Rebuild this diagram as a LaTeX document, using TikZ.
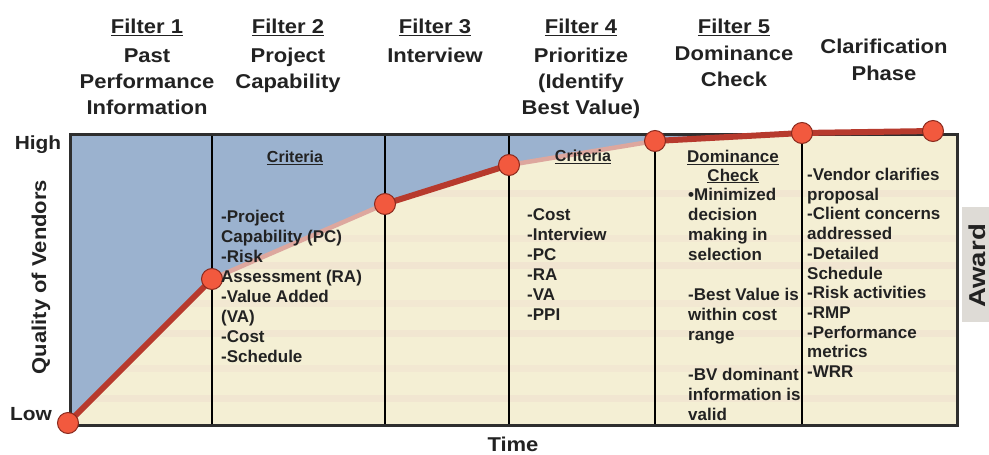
\documentclass[tikz,border=0pt]{standalone}
\usepackage{fontspec}
\setmainfont{Liberation Sans}
\newfontfamily\hdr{Liberation Sans}[FakeStretch=1.1]
\newfontfamily\awd{Liberation Sans}[FakeStretch=1.2]
\definecolor{ink}{HTML}{222222}
\definecolor{skyfill}{HTML}{9BB2CF}
\definecolor{creamfill}{HTML}{F4EFD4}
\definecolor{streak}{HTML}{EBCFCB}
\definecolor{curvecol}{HTML}{B73A2D}
\definecolor{fadecol}{HTML}{DDA79E}
\definecolor{dotfill}{HTML}{F2593E}
\definecolor{dotline}{HTML}{8A2A1E}
\definecolor{awardfill}{HTML}{DEDBD6}
\definecolor{framecol}{HTML}{2E2E2E}
\tikzset{
  hdrtext/.style={font=\hdr\bfseries\fontsize{20}{26}\selectfont, align=center, anchor=north, inner sep=0pt, text=ink},
  axistext/.style={font=\hdr\bfseries\fontsize{19}{22}\selectfont, anchor=base, inner sep=0pt, text=ink},
  bodytext/.style={font=\bfseries\fontsize{17}{20}\selectfont, align=left, anchor=north west, inner sep=0pt, text=ink},
  crittext/.style={font=\bfseries\fontsize{16}{18.5}\selectfont, align=center, anchor=north, inner sep=0pt, text=ink},
  dotnode/.style={circle, fill=dotfill, draw=dotline, line width=1pt, minimum size=21pt, inner sep=0pt},
  curveline/.style={line width=6pt, draw=curvecol},
  fadeline/.style={line width=4.5pt, draw=fadecol},
  divider/.style={line width=1.5pt, draw=black},
}
\begin{document}
\begin{tikzpicture}[x=1pt,y=-1pt]
\useasboundingbox (0,0) rectangle (989,455);
% curve points
\coordinate (p0) at (68,423);
\coordinate (p1) at (212,279);
\coordinate (p2) at (385,204);
\coordinate (p3) at (509,165);
\coordinate (p4) at (655,141);
\coordinate (p5) at (802,133);
\coordinate (p6) at (933,131);
% chart background
\fill[creamfill] (70,134) rectangle (957,425);
\begin{scope}
  \clip (70,134) rectangle (957,425);
  \foreach \yy/\op in {190/0.25,235/0.2,262/0.3,300/0.2,330/0.25,365/0.2,395/0.25}{
    \fill[streak, opacity=\op] (70,\yy) rectangle (957,\yy+7);
  }
  \fill[skyfill] (60,125) -- (60,430) -- (p0) -- (p1) -- (p2) -- (p3) -- (p4) -- (p5) -- (p6) -- (965,131) -- (965,125) -- cycle;
\end{scope}
% award tab
\fill[awardfill] (962,207) rectangle (989,322);
% dividers
\foreach \xx in {212,385,509,655,802}{
  \draw[divider] (\xx,134) -- (\xx,425);
}
% frame
\draw[line width=3pt, draw=framecol] (70,134) rectangle (957,425);
% curve
\draw[curveline] (p0) -- (p1);
\draw[fadeline] (p1) -- (p2);
\draw[curveline] (p2) -- (p3);
\draw[fadeline] (p3) -- (p4);
\draw[curveline] (p4) -- (p5);
\draw[curveline] (p5) -- (p6);
\node[dotnode] (d0) at (p0) {};
\node[dotnode] (d1) at (p1) {};
\node[dotnode] (d2) at (p2) {};
\node[dotnode] (d3) at (p3) {};
\node[dotnode] (d4) at (p4) {};
\node[dotnode] (d5) at (p5) {};
\node[dotnode] (d6) at (p6) {};
% headers
\node[hdrtext] (h1) at (147,18.5) {\underline{Filter 1}\\[3pt]Past\\Performance\\Information};
\node[hdrtext] (h2) at (288,18.5) {\underline{Filter 2}\\[3pt]Project\\Capability};
\node[hdrtext] (h3) at (435,18.5) {\underline{Filter 3}\\[3pt]Interview};
\node[hdrtext] (h4) at (581,18.5) {\underline{Filter 4}\\[3pt]Prioritize\\(Identify\\Best Value)};
\node[hdrtext] (h5) at (734,18.5) {\underline{Filter 5}\\[1pt]Dominance\\Check};
\node[hdrtext] (h6) at (884,38.5) {Clarification\\[1pt]Phase};
% axes
\node[axistext] (high) at (38,149) {High};
\node[axistext] (low) at (31,420) {Low};
\node[axistext, font=\hdr\bfseries\fontsize{20}{22}\selectfont, rotate=90] (qv) at (46,277) {Quality of Vendors};
\node[axistext, font=\hdr\bfseries\fontsize{20}{22}\selectfont] (time) at (513,451) {Time};
\node[axistext, font=\awd\bfseries\fontsize{23}{24}\selectfont, rotate=90] (award) at (985,266) {Award};
% column texts
\node[crittext] (c2) at (295,151) {\underline{Criteria}};
\node[bodytext] (b2) at (221,210) {-Project\\Capability (PC)\\-Risk\\Assessment (RA)\\-Value Added\\(VA)\\-Cost\\-Schedule};
\node[crittext] (c4) at (583,150) {\underline{Criteria}};
\node[bodytext] (b4) at (527,208) {-Cost\\-Interview\\-PC\\-RA\\-VA\\-PPI};
\node[crittext, font=\bfseries\fontsize{17}{18.5}\selectfont] (c5) at (733,150) {\underline{Dominance}\\\underline{Check}};
\node[bodytext] (b5) at (688,188) {•Minimized\\decision\\making in\\selection\\[20pt]-Best Value is\\within cost\\range\\[20pt]-BV dominant\\information is\\valid};
\node[bodytext, font=\bfseries\fontsize{17}{19.7}\selectfont] (b6) at (807,168) {-Vendor clarifies\\proposal\\-Client concerns\\addressed\\-Detailed\\Schedule\\-Risk activities\\-RMP\\-Performance\\metrics\\-WRR};
\end{tikzpicture}
\end{document}
